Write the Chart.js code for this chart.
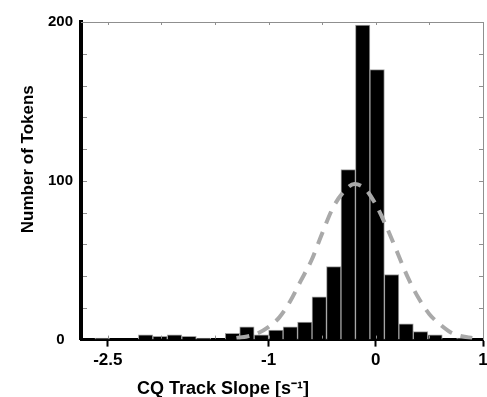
<!DOCTYPE html>
<html>
<head>
<meta charset="utf-8">
<script src="https://cdn.jsdelivr.net/npm/chart.js@4/dist/chart.umd.min.js"></script>
<style>
html,body{margin:0;padding:0;background:#fff;}
#wrap{width:487px;height:397px;}
</style>
</head>
<body>
<div id="wrap"><canvas id="c" width="487" height="397"></canvas></div>
<script>
// Histogram bins (centres, s^-1) and token counts
const binCenters = [-2.6875, -2.5525, -2.4175, -2.2825, -2.1475, -2.0125, -1.8775, -1.7425, -1.6075,
  -1.4725, -1.3375, -1.2025, -1.0675, -0.9325, -0.7975, -0.6625, -0.5275, -0.3925, -0.2575,
  -0.1225, 0.0125, 0.1475, 0.2825, 0.4175, 0.5525, 0.6875, 0.8225];
const counts = [0, 1, 0, 0, 3, 2, 3, 2, 1,
  0, 4, 8, 3, 6, 8, 11, 27, 46, 107,
  198, 170, 41, 10, 5, 3, 0, 1];

// Dashed fitted curve, sampled from the figure
const fitX = [-1.3, -1.2, -1.1, -1.0, -0.9, -0.8, -0.7, -0.6, -0.5, -0.4, -0.3, -0.2,
  -0.1, 0.0, 0.1, 0.2, 0.3, 0.4, 0.5, 0.6, 0.7, 0.8, 0.9];
const fitY = [1, 2, 4, 8, 14, 24, 37, 50, 67, 83, 93, 98,
  95, 85, 71, 55, 39, 26, 16, 9.5, 4.5, 2.2, 1];

// Axis ticks and titles
const xTickValues = [-2.5, -1, 0, 1];
const yTickValues = [0, 100, 200];
const xMinorTicks = [-2.5, -2, -1.5, -1, -0.5, 0, 0.5];
const yMinorTicks = [20, 40, 60, 80, 100, 120, 140, 160, 180];
const xTitle = 'CQ Track Slope [s⁻¹]';
const yTitle = 'Number of Tokens';

const xMin = -2.75, xMax = 1, yMin = 0, yMax = 200;

const FONT = '"Liberation Sans", Arial, Helvetica, sans-serif';

const inwardTicks = {
  id: 'inwardTicks',
  afterDatasetsDraw(chart) {
    const {ctx, chartArea: a, scales: {x, y}} = chart;
    ctx.save();
    ctx.strokeStyle = '#8f8f8f';
    ctx.lineWidth = 1;
    ctx.beginPath();
    xMinorTicks.forEach(v => {
      const px = Math.round(x.getPixelForValue(v)) + 0.5;
      ctx.moveTo(px, a.top); ctx.lineTo(px, a.top + 3);
      ctx.moveTo(px, a.bottom - 1); ctx.lineTo(px, a.bottom - 4);
    });
    yMinorTicks.forEach(v => {
      const py = Math.round(y.getPixelForValue(v)) + 0.5;
      ctx.moveTo(a.left + 2, py); ctx.lineTo(a.left + 6, py);
      ctx.moveTo(a.right, py); ctx.lineTo(a.right - 4, py);
    });
    ctx.stroke();
    ctx.restore();
  }
};

// Axis titles, placed off-centre as in the original figure
const axisTitles = {
  id: 'axisTitles',
  afterDraw(chart) {
    const {ctx, chartArea: a, height} = chart;
    ctx.save();
    ctx.fillStyle = '#000';
    ctx.textAlign = 'center';
    ctx.font = 'bold 18px ' + FONT;
    ctx.textBaseline = 'alphabetic';
    ctx.fillText(xTitle, a.left + 0.353 * (a.right - a.left), height - 3);
    ctx.translate(28, a.top + 0.432 * (a.bottom - a.top));
    ctx.rotate(-Math.PI / 2);
    ctx.font = 'bold 17px ' + FONT;
    ctx.textBaseline = 'middle';
    ctx.fillText(yTitle, 0, 0);
    ctx.restore();
  }
};

new Chart(document.getElementById('c'), {
  type: 'bar',
  data: {
    datasets: [
      {
        type: 'line',
        data: fitX.map((v, i) => ({x: v, y: fitY[i]})),
        borderColor: '#a9a9a9',
        borderWidth: 4,
        borderDash: [13, 9],
        borderCapStyle: 'butt',
        pointRadius: 0,
        fill: false,
        cubicInterpolationMode: 'monotone',
        order: 0
      },
      {
        type: 'bar',
        data: binCenters.map((v, i) => ({x: v, y: counts[i]})),
        backgroundColor: '#000000',
        borderColor: '#a0a0a0',
        borderWidth: 1,
        barPercentage: 1,
        categoryPercentage: 1,
        order: 1
      }
    ]
  },
  options: {
    responsive: false,
    animation: false,
    devicePixelRatio: 1,
    layout: {padding: {top: 22, right: 0, bottom: 22, left: 40}},
    plugins: {legend: {display: false}, tooltip: {enabled: false}},
    scales: {
      x: {
        type: 'linear',
        position: 'bottom',
        min: xMin, max: xMax,
        offset: false,
        z: 1,
        afterBuildTicks: s => { s.ticks = xTickValues.map(v => ({value: v})); },
        afterFit: s => { s.paddingRight = 4; },
        ticks: {color: '#000', font: {family: FONT, size: 17, weight: 'bold'}, padding: 4, maxRotation: 0, autoSkip: false},
        grid: {display: true, drawOnChartArea: false, drawTicks: true, tickLength: 7, tickWidth: 2, tickColor: '#000', offset: false},
        border: {display: true, color: '#000', width: 3},
        title: {display: false}
      },
      y: {
        type: 'linear',
        position: 'left',
        min: yMin, max: yMax,
        z: 1,
        afterBuildTicks: s => { s.ticks = yTickValues.map(v => ({value: v})); },
        ticks: {color: '#000', font: {family: FONT, size: 15, weight: 'bold'}, padding: 8, crossAlign: 'center'},
        grid: {display: false, drawTicks: false},
        border: {display: true, color: '#000', width: 4},
        title: {display: false}
      },
      x2: {
        type: 'linear', position: 'top', min: xMin, max: xMax,
        ticks: {display: false}, grid: {display: false, drawTicks: false},
        border: {display: true, color: '#8f8f8f', width: 1}
      },
      y2: {
        type: 'linear', position: 'right', min: yMin, max: yMax,
        ticks: {display: false}, grid: {display: false, drawTicks: false},
        border: {display: true, color: '#8f8f8f', width: 1}
      }
    }
  },
  plugins: [inwardTicks, axisTitles]
});
</script>
</body>
</html>
